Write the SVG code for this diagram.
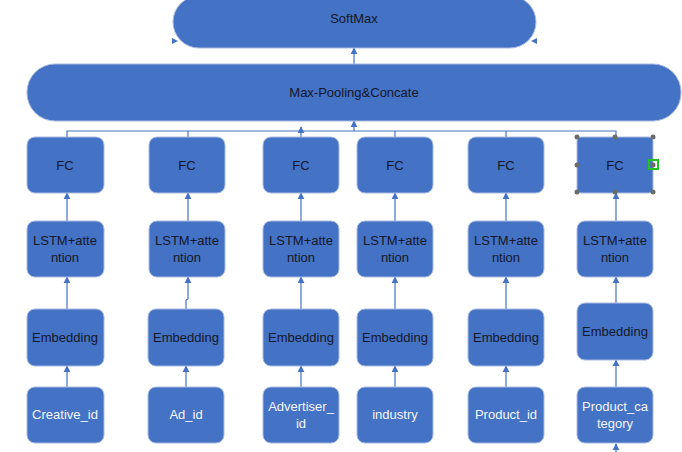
<svg xmlns="http://www.w3.org/2000/svg" width="682" height="452" viewBox="0 0 682 452">
<style>
.box{fill:#4472C4;stroke:#a9bbe2;stroke-width:1}
.t{font-family:"Liberation Sans",Arial,sans-serif;font-size:13px;fill:#15182a;text-anchor:middle}
.w{font-family:"Liberation Sans",Arial,sans-serif;font-size:13px;fill:#f4f6fb;text-anchor:middle}
.c{fill:none;stroke:#4472C4;stroke-width:1.2}
.h{fill:#6b6b6b}
</style>
<defs>
<marker id="ar" viewBox="0 0 10 10" refX="9" refY="5" markerWidth="6" markerHeight="6" orient="auto">
<path d="M0,0 L10,5 L0,10 z" fill="#4472C4"/>
</marker>
</defs>
<g id="connectors">
<line class="c" x1="354" y1="64" x2="354" y2="48" marker-end="url(#ar)"/>
<line class="c" x1="354" y1="131" x2="354" y2="121" marker-end="url(#ar)"/>
<polyline class="c" points="67,137 67,131 616,131 616,137"/>
<line class="c" x1="188" y1="137" x2="188" y2="131"/>
<line class="c" x1="301" y1="137" x2="301" y2="127" marker-end="url(#ar)"/>
<line class="c" x1="395" y1="137" x2="395" y2="131"/>
<line class="c" x1="506" y1="137" x2="506" y2="131"/>
<line class="c" x1="67" y1="221" x2="67" y2="193" marker-end="url(#ar)"/>
<line class="c" x1="188" y1="221" x2="188" y2="193" marker-end="url(#ar)"/>
<line class="c" x1="301" y1="221" x2="301" y2="193" marker-end="url(#ar)"/>
<line class="c" x1="395" y1="221" x2="395" y2="193" marker-end="url(#ar)"/>
<line class="c" x1="506" y1="221" x2="506" y2="193" marker-end="url(#ar)"/>
<line class="c" x1="616" y1="221" x2="616" y2="193" marker-end="url(#ar)"/>
<line class="c" x1="67" y1="309" x2="67" y2="277" marker-end="url(#ar)"/>
<polyline class="c" points="186,309 186,300 188,299 188,277" marker-end="url(#ar)"/>
<line class="c" x1="301" y1="309" x2="301" y2="277" marker-end="url(#ar)"/>
<line class="c" x1="395" y1="309" x2="395" y2="277" marker-end="url(#ar)"/>
<line class="c" x1="506" y1="309" x2="506" y2="277" marker-end="url(#ar)"/>
<line class="c" x1="616" y1="303" x2="616" y2="277" marker-end="url(#ar)"/>
<line class="c" x1="67" y1="387" x2="67" y2="366" marker-end="url(#ar)"/>
<line class="c" x1="186" y1="387" x2="186" y2="366" marker-end="url(#ar)"/>
<line class="c" x1="301" y1="387" x2="301" y2="366" marker-end="url(#ar)"/>
<line class="c" x1="395" y1="387" x2="395" y2="366" marker-end="url(#ar)"/>
<line class="c" x1="506" y1="387" x2="506" y2="366" marker-end="url(#ar)"/>
<line class="c" x1="616" y1="387" x2="616" y2="360" marker-end="url(#ar)"/>
<line class="c" x1="616" y1="452" x2="616" y2="444" marker-end="url(#ar)"/>
<path d="M172,38 L178,41 L172,44 z" fill="#4472C4"/>
<path d="M537,38 L531,41 L537,44 z" fill="#4472C4"/>
</g>
<g id="softmax"><rect class="box" x="173" y="-4" width="363" height="52" rx="26"/><text class="t" x="354" y="23">SoftMax</text></g>
<g id="maxpool"><rect class="box" x="27" y="64" width="654" height="57" rx="28"/><text class="t" x="354" y="97">Max-Pooling&amp;Concate</text></g>

<g id="fc1"><rect class="box" x="27" y="137" width="77" height="56" rx="8"/><text class="t" x="65" y="170">FC</text></g>
<g id="fc2"><rect class="box" x="149" y="137" width="76" height="56" rx="8"/><text class="t" x="187" y="170">FC</text></g>
<g id="fc3"><rect class="box" x="263" y="137" width="76" height="56" rx="8"/><text class="t" x="301" y="170">FC</text></g>
<g id="fc4"><rect class="box" x="357" y="137" width="76" height="56" rx="8"/><text class="t" x="395" y="170">FC</text></g>
<g id="fc5"><rect class="box" x="468" y="137" width="76" height="56" rx="8"/><text class="t" x="506" y="170">FC</text></g>
<g id="fc6"><rect class="box" x="577" y="137" width="76" height="56" rx="4"/><text class="t" x="615" y="170">FC</text></g>

<g id="lstm1"><rect class="box" x="27" y="221" width="77" height="56" rx="8"/><text class="t" x="65" y="245">LSTM+atte</text><text class="t" x="65" y="262">ntion</text></g>
<g id="lstm2"><rect class="box" x="149" y="221" width="76" height="56" rx="8"/><text class="t" x="187" y="245">LSTM+atte</text><text class="t" x="187" y="262">ntion</text></g>
<g id="lstm3"><rect class="box" x="263" y="221" width="76" height="56" rx="8"/><text class="t" x="301" y="245">LSTM+atte</text><text class="t" x="301" y="262">ntion</text></g>
<g id="lstm4"><rect class="box" x="357" y="221" width="76" height="56" rx="8"/><text class="t" x="395" y="245">LSTM+atte</text><text class="t" x="395" y="262">ntion</text></g>
<g id="lstm5"><rect class="box" x="468" y="221" width="76" height="56" rx="8"/><text class="t" x="506" y="245">LSTM+atte</text><text class="t" x="506" y="262">ntion</text></g>
<g id="lstm6"><rect class="box" x="577" y="221" width="76" height="56" rx="8"/><text class="t" x="615" y="245">LSTM+atte</text><text class="t" x="615" y="262">ntion</text></g>

<g id="emb1"><rect class="box" x="27" y="309" width="77" height="57" rx="8"/><text class="t" x="65" y="342">Embedding</text></g>
<g id="emb2"><rect class="box" x="148" y="309" width="76" height="57" rx="8"/><text class="t" x="186" y="342">Embedding</text></g>
<g id="emb3"><rect class="box" x="263" y="309" width="76" height="57" rx="8"/><text class="t" x="301" y="342">Embedding</text></g>
<g id="emb4"><rect class="box" x="357" y="309" width="76" height="57" rx="8"/><text class="t" x="395" y="342">Embedding</text></g>
<g id="emb5"><rect class="box" x="468" y="309" width="76" height="57" rx="8"/><text class="t" x="506" y="342">Embedding</text></g>
<g id="emb6"><rect class="box" x="577" y="303" width="76" height="57" rx="8"/><text class="t" x="615" y="336">Embedding</text></g>

<g id="in1"><rect class="box" x="27" y="387" width="77" height="56" rx="8"/><text class="w" x="65" y="419">Creative_id</text></g>
<g id="in2"><rect class="box" x="148" y="387" width="76" height="56" rx="8"/><text class="w" x="186" y="419">Ad_id</text></g>
<g id="in3"><rect class="box" x="263" y="387" width="76" height="56" rx="8"/><text class="w" x="301" y="411">Advertiser_</text><text class="w" x="301" y="428">id</text></g>
<g id="in4"><rect class="box" x="357" y="387" width="76" height="56" rx="8"/><text class="w" x="395" y="419">industry</text></g>
<g id="in5"><rect class="box" x="468" y="387" width="76" height="56" rx="8"/><text class="w" x="506" y="419">Product_id</text></g>
<g id="in6"><rect class="box" x="577" y="387" width="76" height="56" rx="8"/><text class="w" x="615" y="411">Product_ca</text><text class="w" x="615" y="428">tegory</text></g>

<g id="selection">
<circle class="h" cx="577" cy="137" r="2.5"/><circle class="h" cx="615" cy="137" r="2.5"/><circle class="h" cx="653" cy="137" r="2.5"/>
<circle class="h" cx="577" cy="165" r="2.5"/>
<circle class="h" cx="577" cy="192" r="2.5"/><circle class="h" cx="615" cy="192" r="2.5"/><circle class="h" cx="653" cy="192" r="2.5"/>
<rect x="649" y="160" width="9" height="9" fill="none" stroke="#22c31e" stroke-width="2"/>
<circle class="h" cx="653" cy="165" r="2.5"/>
</g>
</svg>
